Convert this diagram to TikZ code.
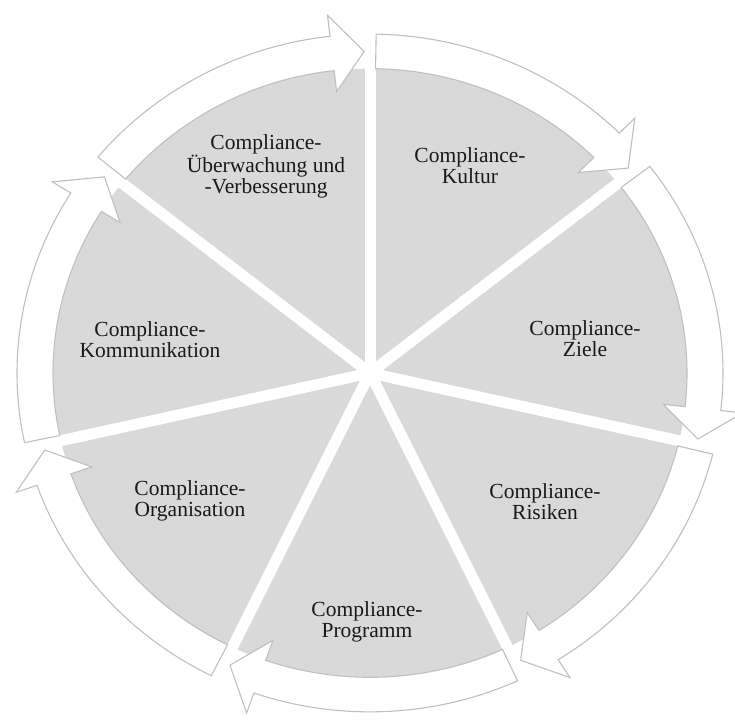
\documentclass[tikz,border=0pt]{standalone}
\usepackage{fontspec}
\setmainfont{Liberation Serif}
\definecolor{sect}{RGB}{217,217,217}
\definecolor{arrowline}{RGB}{192,192,192}
\definecolor{txt}{RGB}{25,25,25}
\begin{document}
\begin{tikzpicture}[x=1pt,y=1pt,
  lbl/.style={font=\fontsize{21.5}{21}\selectfont, align=center, text=txt, inner sep=0pt},
  ringarrow/.style={fill=white, draw=arrowline, line width=1.1pt, line join=miter}]
\useasboundingbox (0,0) rectangle (735,719);
\begin{scope}[shift={(370,346)}, yscale=0.96]
  \fill[sect] (0,0) circle[radius=317];
  \foreach \k in {0,...,6}
    \draw[white, line width=11pt] (0,0) -- ({90-\k*360/7}:340);
  \foreach \k in {0,...,6} {
    \pgfmathsetmacro\ts{90-\k*360/7-1}
    \pgfmathsetmacro\tb{90-(\k+1)*360/7+6.5}
    \pgfmathsetmacro\tt{90-(\k+1)*360/7+1}
    \filldraw[ringarrow] (\ts:353) arc[start angle=\ts, end angle=\tb, radius=353]
      -- (\tb:375) -- (\tt:335) -- (\tb:295) -- (\tb:317)
      arc[start angle=\tb, end angle=\ts, radius=317] -- cycle;
  }
\end{scope}
\node[lbl] (ueberw) at (266,553) {Compliance-\\Überwachung und\\-Verbesserung};
\node[lbl] (kultur) at (470,553) {Compliance-\\Kultur};
\node[lbl] (ziele) at (585,380) {Compliance-\\Ziele};
\node[lbl] (risiken) at (545,217) {Compliance-\\Risiken};
\node[lbl] (programm) at (367,97) {Compliance-\\Programm};
\node[lbl] (organisation) at (190,218) {Compliance-\\Organisation};
\node[lbl] (kommunikation) at (150,379) {Compliance-\\Kommunikation};
\end{tikzpicture}
\end{document}
